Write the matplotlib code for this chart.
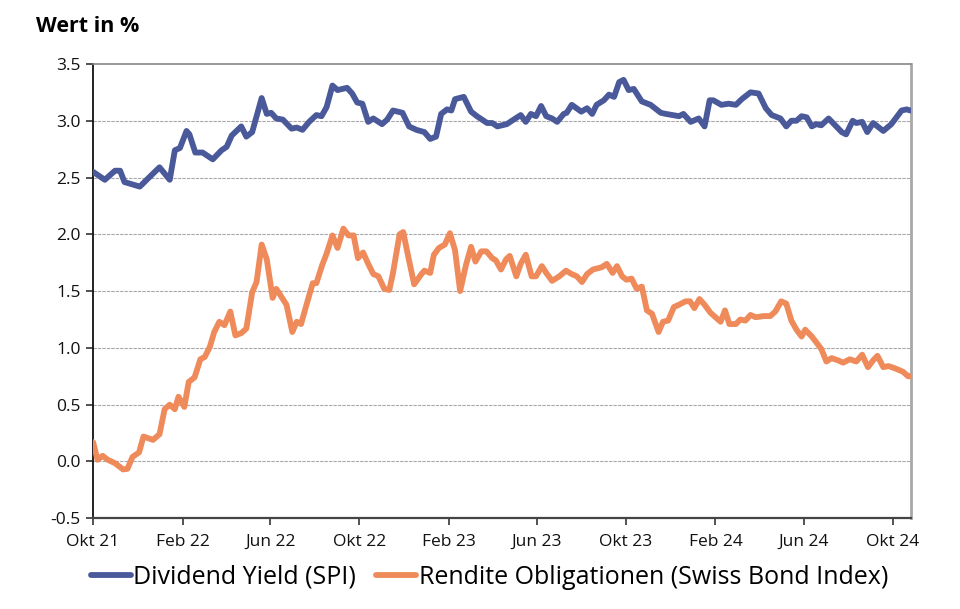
import pandas as pd
import matplotlib
matplotlib.use('Agg')
import matplotlib.pyplot as plt

plt.rcParams['font.family'] = ['Open Sans', 'DejaVu Sans']

# days after 1 Oct 2021
start = pd.Timestamp('2021-10-01')

spi_days = [0, 16, 30, 37, 43, 64, 75, 91, 105, 112, 119, 128, 132, 140, 150, 164,
            176, 183, 190, 203, 210, 218, 231, 238, 244, 251, 260, 272, 279, 287,
            296, 306, 313, 320, 328, 335, 348, 355, 362, 369, 377, 384, 396, 403,
            411, 424, 433, 443, 454, 462, 470, 477, 485, 491, 496, 508, 518, 526,
            540, 547, 554, 567, 574, 586, 593, 600, 607, 614, 621, 629, 636, 645,
            649, 656, 669, 677, 684, 690, 700, 707, 714, 721, 727, 734, 741, 752,
            764, 778, 785, 803, 809, 819, 830, 838, 845, 850, 861, 871, 881, 889,
            901, 912, 922, 930, 942, 950, 957, 964, 971, 978, 985, 991, 998, 1008,
            1017, 1026, 1032, 1041, 1046, 1054, 1061, 1069, 1083, 1094, 1108, 1115,
            1120]
spi_yield = [2.55, 2.48, 2.56, 2.56, 2.46, 2.42, 2.49, 2.59, 2.48, 2.74, 2.76, 2.91,
             2.88, 2.72, 2.72, 2.66, 2.74, 2.77, 2.87, 2.95, 2.86, 2.90, 3.20, 3.06,
             3.07, 3.02, 3.01, 2.93, 2.94, 2.92, 2.99, 3.05, 3.04, 3.12, 3.31, 3.27,
             3.29, 3.24, 3.16, 3.15, 2.99, 3.02, 2.97, 3.01, 3.09, 3.07, 2.95, 2.92,
             2.90, 2.84, 2.86, 3.06, 3.10, 3.09, 3.19, 3.21, 3.08, 3.04, 2.98, 2.98,
             2.95, 2.97, 3.00, 3.05, 2.99, 3.06, 3.04, 3.13, 3.04, 3.02, 2.99, 3.06,
             3.07, 3.14, 3.08, 3.11, 3.06, 3.14, 3.18, 3.23, 3.21, 3.34, 3.36, 3.27,
             3.28, 3.17, 3.14, 3.07, 3.06, 3.04, 3.06, 2.99, 3.02, 2.95, 3.18, 3.18,
             3.14, 3.15, 3.14, 3.19, 3.25, 3.24, 3.11, 3.05, 3.02, 2.95, 3.00, 3.00,
             3.04, 3.03, 2.95, 2.97, 2.96, 3.02, 2.96, 2.90, 2.88, 3.00, 2.98, 2.99,
             2.90, 2.98, 2.91, 2.97, 3.09, 3.10, 3.09]

bond_days = [0, 6, 13, 20, 30, 41, 47, 54, 63, 69, 82, 91, 98, 105, 112, 117, 125,
             131, 139, 147, 153, 160, 166, 173, 180, 188, 195, 203, 210, 218, 224,
             231, 238, 246, 251, 260, 265, 273, 279, 285, 292, 301, 306, 314, 320,
             328, 335, 343, 350, 357, 363, 370, 377, 384, 391, 399, 406, 411, 420,
             425, 432, 440, 450, 454, 462, 467, 474, 482, 489, 496, 503, 511, 518,
             524, 532, 539, 547, 552, 559, 566, 571, 580, 586, 593, 601, 607, 615,
             621, 629, 639, 648, 656, 663, 670, 677, 685, 697, 704, 712, 718, 725,
             731, 738, 745, 752, 759, 766, 775, 781, 788, 796, 803, 812, 818, 824,
             831, 838, 846, 853, 860, 866, 872, 881, 887, 894, 901, 908, 919, 928,
             935, 943, 950, 957, 964, 971, 976, 985, 991, 998, 1005, 1012, 1021,
             1028, 1037, 1046, 1054, 1062, 1069, 1075, 1083, 1090, 1099, 1110, 1117,
             1120]
bond_yield = [0.17, 0.015, 0.05, 0.015, -0.015, -0.07, -0.065, 0.04, 0.08, 0.22,
              0.19, 0.24, 0.46, 0.50, 0.46, 0.57, 0.48, 0.70, 0.74, 0.90, 0.92, 1.01,
              1.14, 1.23, 1.20, 1.32, 1.11, 1.13, 1.17, 1.49, 1.58, 1.91, 1.78, 1.44,
              1.52, 1.43, 1.38, 1.14, 1.23, 1.21, 1.37, 1.57, 1.57, 1.73, 1.83, 1.99,
              1.88, 2.05, 1.99, 1.99, 1.79, 1.84, 1.74, 1.65, 1.63, 1.52, 1.51, 1.66,
              2.00, 2.02, 1.80, 1.56, 1.65, 1.68, 1.66, 1.82, 1.88, 1.91, 2.01, 1.86,
              1.50, 1.73, 1.89, 1.76, 1.85, 1.85, 1.79, 1.77, 1.69, 1.78, 1.81, 1.63,
              1.74, 1.82, 1.63, 1.63, 1.72, 1.66, 1.59, 1.63, 1.68, 1.65, 1.63, 1.58,
              1.65, 1.69, 1.71, 1.74, 1.66, 1.72, 1.63, 1.60, 1.61, 1.52, 1.54, 1.33,
              1.30, 1.14, 1.23, 1.24, 1.36, 1.38, 1.41, 1.41, 1.35, 1.43, 1.38, 1.31,
              1.27, 1.23, 1.33, 1.21, 1.21, 1.25, 1.24, 1.29, 1.27, 1.28, 1.28, 1.32,
              1.41, 1.39, 1.24, 1.16, 1.10, 1.16, 1.10, 1.05, 0.99, 0.88, 0.91, 0.89,
              0.87, 0.90, 0.88, 0.94, 0.83, 0.89, 0.93, 0.83, 0.84, 0.82, 0.79, 0.75,
              0.75]

tick_dates = ['2021-10-01', '2022-02-01', '2022-06-01', '2022-10-01', '2023-02-01',
              '2023-06-01', '2023-10-01', '2024-02-01', '2024-06-01', '2024-10-01']
tick_labels = ['Okt 21', 'Feb 22', 'Jun 22', 'Okt 22', 'Feb 23',
               'Jun 23', 'Okt 23', 'Feb 24', 'Jun 24', 'Okt 24']
y_ticks = [-0.5, 0.0, 0.5, 1.0, 1.5, 2.0, 2.5, 3.0, 3.5]

spi_dates = start + pd.to_timedelta(spi_days, unit='D')
bond_dates = start + pd.to_timedelta(bond_days, unit='D')

fig = plt.figure(figsize=(9.6, 6.09), dpi=100)
ax = fig.add_axes([0.097, 0.149, 0.852, 0.746])

blue = '#4a5999'
orange = '#ef8a5a'

ax.plot(spi_dates, spi_yield, color=blue, lw=4.2, solid_capstyle='round',
        solid_joinstyle='round', label='Dividend Yield (SPI)', zorder=3)
ax.plot(bond_dates, bond_yield, color=orange, lw=4.2, solid_capstyle='round',
        solid_joinstyle='round', label='Rendite Obligationen (Swiss Bond Index)', zorder=3)

ax.set_ylim(-0.5, 3.5)
ax.set_xlim(start, start + pd.Timedelta(days=1121))
ax.set_yticks(y_ticks)
ax.set_yticklabels([f'{v:.1f}' for v in y_ticks], fontsize=12.5, color='#111111')
ax.set_xticks(pd.to_datetime(tick_dates))
ax.set_xticklabels(tick_labels, fontsize=12.5, color='#111111')

for v in y_ticks[1:-1]:
    ax.axhline(v, color='#a8a8a8', lw=0.8, ls=(0, (3, 1)), zorder=1)

ax.tick_params(axis='both', direction='out', length=5, width=1.2, color='#333333')
ax.tick_params(axis='x', pad=6)
ax.tick_params(axis='y', pad=4)

ax.spines['left'].set_color('#111111')
ax.spines['left'].set_linewidth(1.3)
ax.spines['bottom'].set_color('#444444')
ax.spines['bottom'].set_linewidth(1.6)
ax.spines['top'].set_color('#888888')
ax.spines['top'].set_linewidth(1.2)
ax.spines['right'].set_color('#a8a8a8')
ax.spines['right'].set_linewidth(2.0)

fig.text(0.038, 0.957, 'Wert in %', fontsize=15.5, fontweight='bold', va='center', ha='left')

fig.legend(loc='center', bbox_to_anchor=(0.51, 0.052), ncol=2, frameon=False,
           fontsize=18, handlelength=1.6, handletextpad=0.1, columnspacing=0.8)

fig.savefig('out.png', dpi=100)
